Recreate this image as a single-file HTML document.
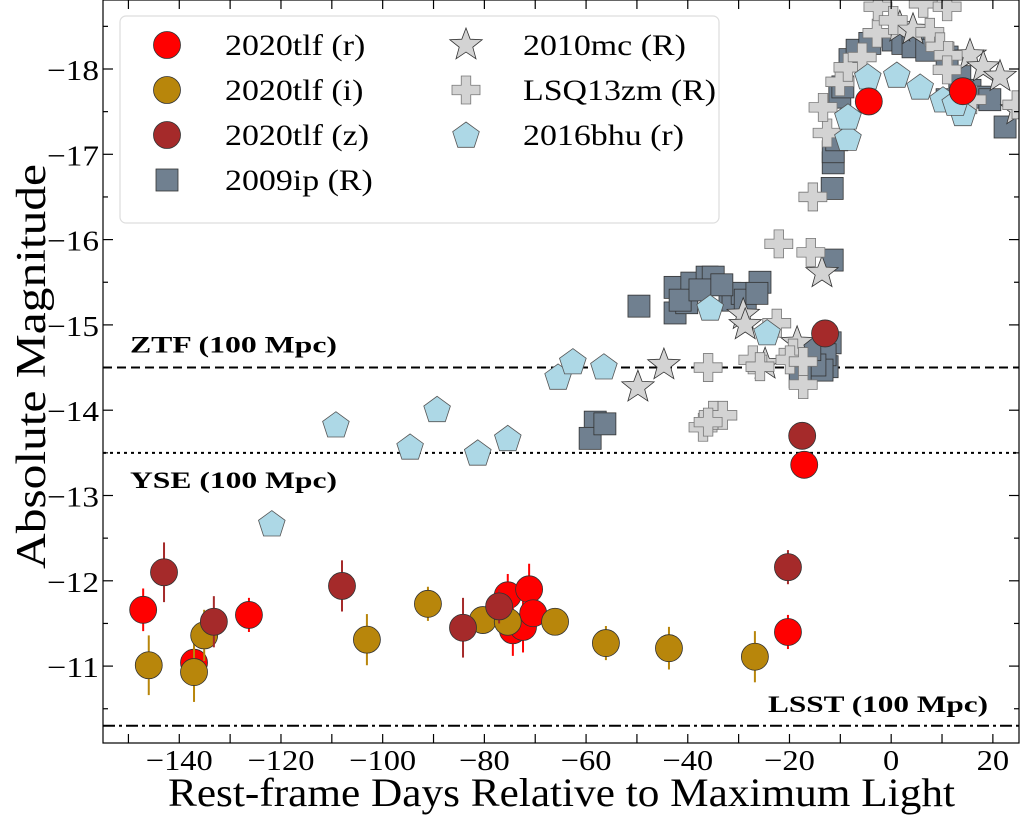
<!DOCTYPE html>
<html><head><meta charset="utf-8">
<style>
html,body{margin:0;padding:0;background:#fff;}
svg{display:block;font-family:"Liberation Serif","DejaVu Serif",serif;}
</style></head>
<body>
<svg id="chart" width="1020" height="816" viewBox="0 0 1020 816" xmlns="http://www.w3.org/2000/svg">
<defs><clipPath id="plotclip"><rect x="103" y="0" width="916" height="743"/></clipPath></defs>
<g id="grid-lines"></g>
<g id="marks" clip-path="url(#plotclip)"></g>
<g id="axes"></g>
<g id="legend"></g>
</svg>
<script>
// ---- data ----
const rDays = [-147.1,-137.1,-126.3,-75.4,-74.4,-72.4,-71.2,-70.4,-20.3,-17.1,-4.4,14.1];
const rMags = [-11.66,-11.04,-11.60,-11.83,-11.42,-11.46,-11.90,-11.62,-11.40,-13.36,-17.62,-17.74];
const rErr  = [0.25,0.2,0.2,0.25,0.3,0.3,0.3,0.25,0.2,0,0,0];
const iDays = [-146.0,-137.1,-135.1,-103.1,-91.1,-80.3,-75.4,-66.1,-56.1,-43.7,-26.8];
const iMags = [-11.01,-10.93,-11.36,-11.31,-11.73,-11.54,-11.52,-11.52,-11.27,-11.21,-11.11];
const iErr  = [0.35,0.35,0.3,0.3,0.2,0.15,0.15,0.1,0.2,0.25,0.3];
const zDays = [-143.0,-133.2,-108.0,-84.2,-77.1,-20.3,-17.5,-13.0];
const zMags = [-12.10,-11.52,-11.94,-11.45,-11.70,-12.16,-13.70,-14.90];
const zErr  = [0.35,0.3,0.3,0.35,0.2,0.2,0,0];
const sqDays = [-49.6,-42.5,-42.5,-39.2,-36.2,-35.0,-40.2,-31.7,-31.1,-29.3,-28.7,-25.8,-26.4,-58.2,-59.2,-56.3,-41.5,-37.6,-33.3,-11.6,-12.6,-12.0,-13.0,-13.6,-15.0,-17.9,-16.0,-11.6,-11.4,-11.4,-10.7,-10.1,-9.5,-8.1,-6.7,-4.2,0.4,2.3,4.3,7.0,11.0,13.5,15.5,17.5,19.4,22.4,11.0];
const sqMags = [-15.22,-15.14,-15.44,-15.49,-15.56,-15.56,-15.26,-15.37,-15.29,-15.37,-15.29,-15.50,-15.37,-13.86,-13.67,-13.84,-15.29,-15.41,-15.47,-15.76,-14.51,-14.79,-14.65,-14.47,-14.53,-14.39,-14.71,-16.60,-16.90,-17.03,-17.17,-17.67,-17.79,-18.11,-18.22,-18.30,-18.34,-18.30,-18.26,-18.22,-18.14,-17.91,-17.75,-17.67,-17.64,-17.32,-17.64];
const starDays = [-49.8,-44.7,-29.1,-28.7,-13.6,-24.8,-18.5,1.7,4.3,15.5,18.1,21.4,24.7];
const starMags = [-14.27,-14.53,-15.12,-15.00,-15.61,-14.54,-14.79,-18.49,-18.46,-18.16,-18.02,-17.91,-17.52];
const plusDays = [-37.0,-35.0,-33.1,-36.0,-17.3,-36.0,-22.1,-15.8,-15.4,-27.2,-25.8,-22.5,-19.3,-19.9,-17.3,-12.6,-13.4,-10.1,-8.5,-5.7,-2.8,-2.6,0.4,6.3,11.0,7.6,9.6,11.2,11.0,15.9,24.7];
const plusMags = [-13.80,-13.94,-13.94,-13.86,-14.30,-14.50,-15.95,-15.85,-16.50,-14.59,-14.51,-15.02,-14.67,-14.59,-14.57,-17.25,-17.55,-17.85,-18.02,-18.14,-18.42,-18.73,-18.57,-18.77,-18.73,-18.43,-18.26,-18.16,-17.99,-17.64,-17.58];
const pentDays = [-121.8,-109.2,-94.6,-89.3,-81.3,-75.4,-65.5,-62.6,-56.5,-35.6,-24.4,-8.5,-8.5,-4.6,1.1,5.7,10.2,14.1,12.6];
const pentMags = [-12.67,-13.83,-13.57,-14.01,-13.50,-13.67,-14.39,-14.57,-14.51,-15.20,-14.91,-17.19,-17.44,-17.91,-17.93,-17.79,-17.64,-17.48,-17.60];
const xTicks = [-140,-120,-100,-80,-60,-40,-20,0,20];
const yTicks = [-11,-12,-13,-14,-15,-16,-17,-18];
const limitMags = [-14.5,-13.5,-10.3];
const limitNames = ["ZTF (100 Mpc)","YSE (100 Mpc)","LSST (100 Mpc)"];

// ---- scales ----
const X = d => 103 + (d + 155) * 5.085;
const Y = m => 69 + (m + 18) * 85.3;
const NS = "http://www.w3.org/2000/svg";
function mk(tag, attrs, parent){ const e=document.createElementNS(NS,tag); for(const k in attrs) e.setAttribute(k,attrs[k]); parent.appendChild(e); return e; }
function stretch(t, factor){ const w=t.getComputedTextLength(); if(w>0){ t.setAttribute('textLength',(w*factor).toFixed(1)); t.setAttribute('lengthAdjust','spacingAndGlyphs'); } }
const marks = document.getElementById('marks');
const axes = document.getElementById('axes');
const lines = document.getElementById('grid-lines');
const legend = document.getElementById('legend');

function square(g,cx,cy,s){ return mk('rect',{x:cx-s/2,y:cy-s/2,width:s,height:s,fill:'#708090',stroke:'#333','stroke-width':0.8},g); }
function starPts(cx,cy,R){ let p=[]; for(let i=0;i<10;i++){const r=i%2?R*0.42:R; const a=-Math.PI/2+i*Math.PI/5; p.push((cx+r*Math.cos(a)).toFixed(1)+','+(cy+r*Math.sin(a)).toFixed(1));} return p.join(' '); }
function star(g,cx,cy,R){ return mk('polygon',{points:starPts(cx,cy,R),fill:'#d3d3d3',stroke:'#333','stroke-width':0.8},g); }
function plusPts(cx,cy,h,w){ const a=w/2; return [[-a,-h],[a,-h],[a,-a],[h,-a],[h,a],[a,a],[a,h],[-a,h],[-a,a],[-h,a],[-h,-a],[-a,-a]].map(p=>(cx+p[0])+','+(cy+p[1])).join(' '); }
function plus(g,cx,cy){ return mk('polygon',{points:plusPts(cx,cy,14,9.5),fill:'#d3d3d3',stroke:'#777','stroke-width':0.8},g); }
function pentPts(cx,cy,R){ let p=[]; for(let i=0;i<5;i++){const a=-Math.PI/2+i*2*Math.PI/5; p.push((cx+R*Math.cos(a)).toFixed(1)+','+(cy+R*Math.sin(a)+1).toFixed(1));} return p.join(' '); }
function pent(g,cx,cy){ return mk('polygon',{points:pentPts(cx,cy,14),fill:'#add8e6',stroke:'#555','stroke-width':0.8},g); }
function circ(g,cx,cy,fill){ return mk('circle',{cx:cx,cy:cy,r:13.5,fill:fill,stroke:'#333','stroke-width':0.8},g); }

// threshold lines
const dashes = ['9,5','3,4','12,4,3,4'];
limitMags.forEach((m,i)=>{
  const l = mk('line',{x1:103,x2:1019,y1:Y(m),y2:Y(m),stroke:'#000','stroke-width':2,'stroke-dasharray':dashes[i]},lines);
  
  
});
const lab1 = mk('text',{x:130,y:Y(-14.5)-15,'font-size':23,'font-weight':'bold','textLength':207,'lengthAdjust':'spacingAndGlyphs'},lines); lab1.textContent=limitNames[0];


const lab2 = mk('text',{x:130,y:Y(-13.5)+35,'font-size':23,'font-weight':'bold','textLength':207,'lengthAdjust':'spacingAndGlyphs'},lines); lab2.textContent=limitNames[1];


const lab3 = mk('text',{x:768,y:Y(-10.3)-14,'font-size':23,'font-weight':'bold','textLength':220,'lengthAdjust':'spacingAndGlyphs'},lines); lab3.textContent=limitNames[2];



// series
sqDays.forEach((d,i)=>{ const e=square(marks,X(d),Y(sqMags[i]),22);
  
   });
starDays.forEach((d,i)=>{ const e=star(marks,X(d),Y(starMags[i]),17);
  
   });
plusDays.forEach((d,i)=>{ const e=plus(marks,X(d),Y(plusMags[i]));
  
   });
pentDays.forEach((d,i)=>{ const e=pent(marks,X(d),Y(pentMags[i]));
  
   });
function circles(days,mags,errs,fill,name){
  days.forEach((d,i)=>{
    if(errs[i]>0){ const eb=mk('line',{x1:X(d),x2:X(d),y1:Y(mags[i]-errs[i]),y2:Y(mags[i]+errs[i]),stroke:fill,'stroke-width':2},marks);
      
       }
    const c=circ(marks,X(d),Y(mags[i]),fill);
    
    
  });
}
circles(rDays,rMags,rErr,'#ff0000','2020tlf-r');
circles(iDays,iMags,iErr,'#b8860b','2020tlf-i');
circles(zDays,zMags,zErr,'#a52a2a','2020tlf-z');

// axes frame
const frame = mk('rect',{x:103,y:0,width:916,height:743,fill:'none',stroke:'#000','stroke-width':1.2},axes);


for(let d=-150; d<=20; d+=10){
  const x=X(d);
  mk('line',{x1:x,x2:x,y1:743,y2:734,stroke:'#000','stroke-width':1.2},axes);
  mk('line',{x1:x,x2:x,y1:0,y2:9,stroke:'#000','stroke-width':1.2},axes);
}
xTicks.forEach(t=>{
  const tx=mk('text',{x:X(t),y:770,'font-size':29,'text-anchor':'middle'},axes);
  tx.textContent=(t<0?'\u2212':'')+Math.abs(t);
  
  
  stretch(tx,1.12);
});
for(let m=-18.5; m<=-10.5; m+=0.5){
  const y=Y(m); const major = Math.abs(m-Math.round(m))<0.01; const len=major?10:5;
  mk('line',{x1:103,x2:103+len,y1:y,y2:y,stroke:'#000','stroke-width':1.2},axes);
  mk('line',{x1:1019,x2:1019-len,y1:y,y2:y,stroke:'#000','stroke-width':1.2},axes);
}
yTicks.forEach(t=>{
  const ty=mk('text',{x:99,y:Y(t)+11,'font-size':29,'text-anchor':'end','textLength':52,'lengthAdjust':'spacingAndGlyphs'},axes);
  ty.textContent='\u2212'+Math.abs(t);
  
  
});
const xl=mk('text',{x:168,y:806,'font-size':40,'textLength':787,'lengthAdjust':'spacingAndGlyphs'},axes);
xl.textContent='Rest-frame Days Relative to Maximum Light';


const yl=mk('text',{x:-202,y:0,'font-size':42,'textLength':405,'lengthAdjust':'spacingAndGlyphs',transform:'translate(45,367) rotate(-90)'},axes);
yl.textContent='Absolute Magnitude';



// legend
const lb=mk('rect',{x:120,y:16,width:599,height:207,rx:6,fill:'#fff','fill-opacity':0.85,stroke:'#ddd','stroke-width':1.2},legend);


const rowsY=[45,90,135,180];
const e1=[['circ','#ff0000','2020tlf (r)'],['circ','#b8860b','2020tlf (i)'],['circ','#a52a2a','2020tlf (z)'],['sq','','2009ip (R)']];
const e2=[['star','','2010mc (R)'],['plus','','LSQ13zm (R)'],['pent','','2016bhu (r)']];
function legendEntry(col,i,e){
  const mx = col===0?167:466, tx = col===0?225:523, y=rowsY[i];
  const g=mk('g',{},legend);
  
  
  if(e[0]==='circ') circ(g,mx,y,e[1]);
  else if(e[0]==='sq') square(g,mx,y,22);
  else if(e[0]==='star') star(g,mx,y,17);
  else if(e[0]==='plus') plus(g,mx,y);
  else pent(g,mx,y);
  const t=mk('text',{x:tx,y:y+10,'font-size':30},g); t.textContent=e[2];
  stretch(t,1.13);
}
e1.forEach((e,i)=>legendEntry(0,i,e));
e2.forEach((e,i)=>legendEntry(1,i,e));
</script>
</body></html>
